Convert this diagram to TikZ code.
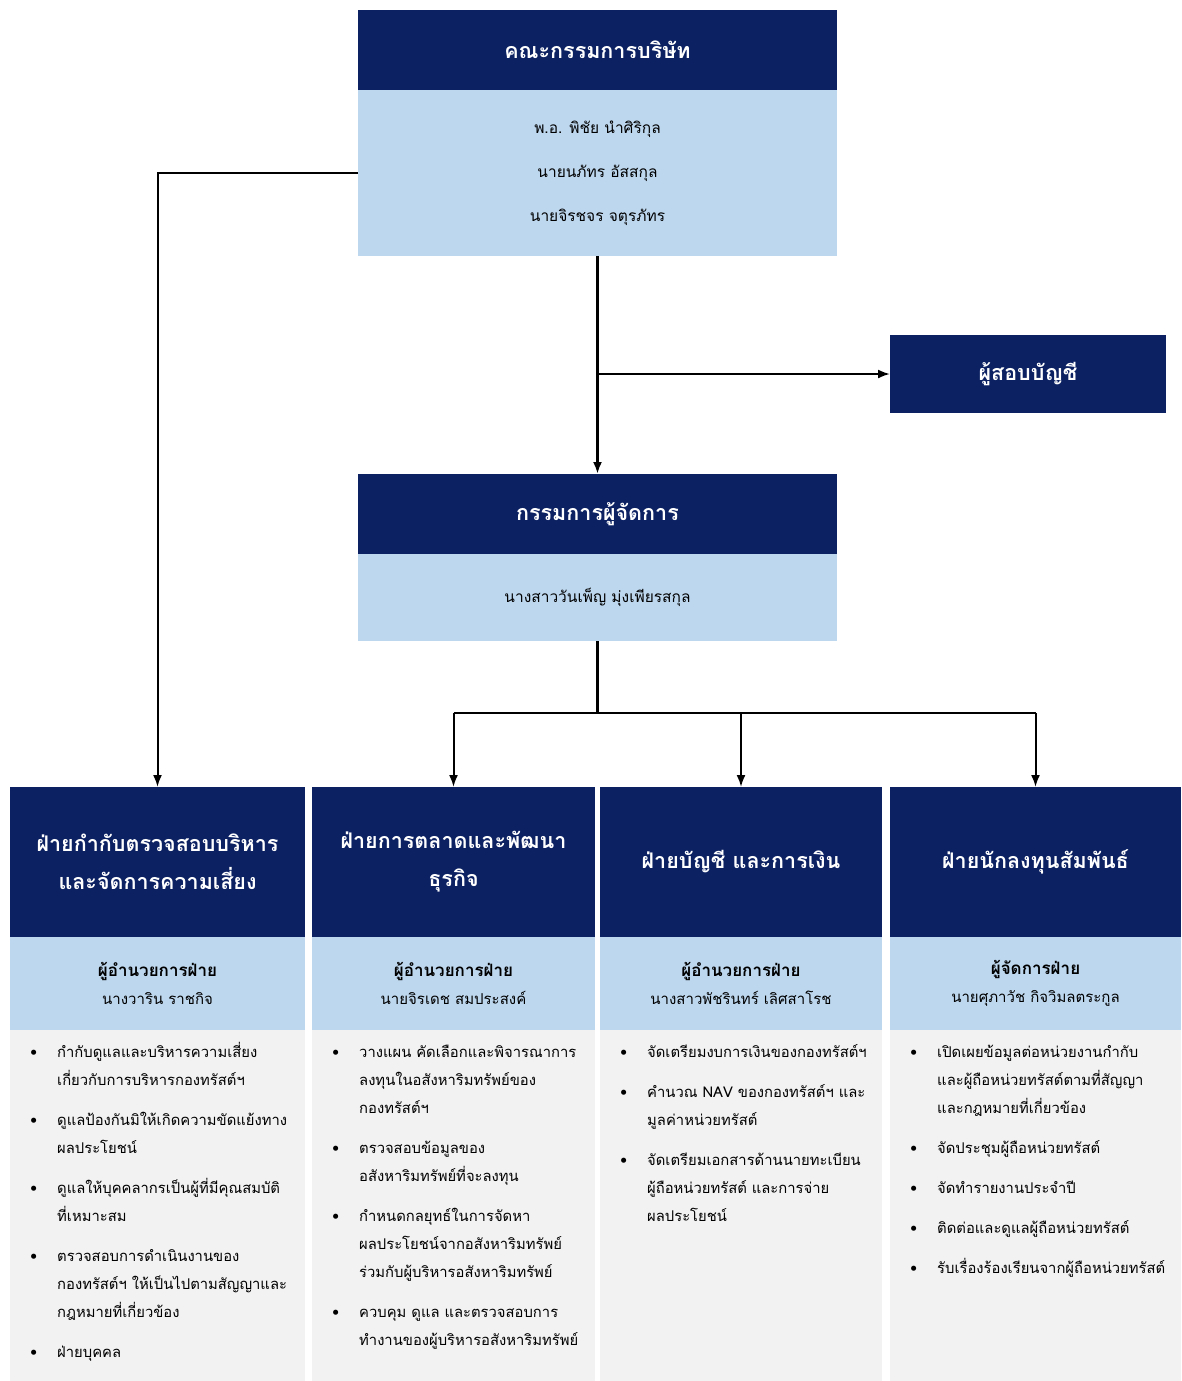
\documentclass[tikz,border=0pt]{standalone}
\usepackage{fontspec}
\setmainfont{Loma}[Script=Thai]
\usetikzlibrary{positioning,arrows.meta}
\definecolor{navy}{RGB}{12,33,98}
\definecolor{paleblue}{RGB}{189,215,238}
\definecolor{panelgrey}{RGB}{242,242,242}
\tikzset{
  headbox/.style={fill=navy, text=white, font=\fontsize{21.5}{38}\selectfont\bfseries,
    align=center, inner sep=0pt, outer sep=0pt, anchor=north},
  namebox/.style={fill=paleblue, font=\fontsize{15}{28}\selectfont,
    align=center, inner sep=0pt, outer sep=0pt},
  panel/.style={fill=panelgrey, inner sep=0pt, outer sep=0pt},
  duties/.style={font=\fontsize{14.8}{28}\selectfont, inner sep=0pt, anchor=north west,
    align=left},
  link/.style={->, line width=2pt},
}
\newcommand{\dutylist}[1]{%
  \setlength{\leftmargini}{47pt}\setlength{\labelsep}{20pt}%
  \setlength{\topsep}{0pt}\setlength{\partopsep}{0pt}%
  \begin{itemize}\setlength{\topsep}{0pt}\setlength{\partopsep}{0pt}%
  \setlength{\parsep}{0pt}\setlength{\itemsep}{8pt}#1\end{itemize}}
\newcommand{\subhead}[1]{{\fontsize{17}{28}\selectfont\bfseries #1}}
\begin{document}
\begin{tikzpicture}[x=1pt,y=-1pt,>={Latex[length=12pt,width=9pt]}]
  \useasboundingbox (0,0) rectangle (1181,1381);
  % board and managing director
  \node[headbox, minimum width=479pt, minimum height=80pt] (board) at (597.5,10) {คณะกรรมการบริษัท};
  \node[namebox, minimum width=479pt, minimum height=166pt, below=0pt of board,
    font=\fontsize{15.5}{44}\selectfont] (boardnames)
    {พ.อ. พิชัย นำศิริกุล\\นายนภัทร อัสสกุล\\นายจิรชจร จตุรภัทร};
  \node[headbox, minimum width=276pt, minimum height=78pt] (auditor) at (1028,335) {ผู้สอบบัญชี};
  \node[headbox, minimum width=479pt, minimum height=80pt] (md) at (597.5,474) {กรรมการผู้จัดการ};
  \node[namebox, minimum width=479pt, minimum height=87pt, below=0pt of md,
    font=\fontsize{15.5}{28}\selectfont] (mdnames)
    {นางสาววันเพ็ญ มุ่งเพียรสกุล};

  % departments
  \node[headbox, minimum width=295pt, minimum height=150pt] (risk) at (157.5,787)
    {ฝ่ายกำกับตรวจสอบบริหาร\\และจัดการความเสี่ยง};
  \node[headbox, minimum width=283pt, minimum height=150pt] (marketing) at (453.5,787)
    {ฝ่ายการตลาดและพัฒนา\\ธุรกิจ};
  \node[headbox, minimum width=282pt, minimum height=150pt] (finance) at (741,787)
    {ฝ่ายบัญชี และการเงิน};
  \node[headbox, minimum width=291pt, minimum height=150pt] (investor) at (1035.5,787)
    {ฝ่ายนักลงทุนสัมพันธ์};

  \node[namebox, minimum width=295pt, minimum height=93pt, below=0pt of risk] (riskhead)
    {\subhead{ผู้อำนวยการฝ่าย}\\นางวาริน ราชกิจ};
  \node[namebox, minimum width=283pt, minimum height=93pt, below=0pt of marketing] (marketinghead)
    {\subhead{ผู้อำนวยการฝ่าย}\\นายจิรเดช สมประสงค์};
  \node[namebox, minimum width=282pt, minimum height=93pt, below=0pt of finance] (financehead)
    {\subhead{ผู้อำนวยการฝ่าย}\\นางสาวพัชรินทร์ เลิศสาโรช};
  \node[namebox, minimum width=291pt, minimum height=93pt, below=0pt of investor] (investorhead)
    {\subhead{ผู้จัดการฝ่าย}\\นายศุภาวัช กิจวิมลตระกูล};

  \node[panel, minimum width=295pt, minimum height=351pt, below=0pt of riskhead] (riskpanel) {};
  \node[panel, minimum width=283pt, minimum height=351pt, below=0pt of marketinghead] (marketingpanel) {};
  \node[panel, minimum width=282pt, minimum height=351pt, below=0pt of financehead] (financepanel) {};
  \node[panel, minimum width=291pt, minimum height=351pt, below=0pt of investorhead] (investorpanel) {};

  \node[duties, text width=290pt, below right=-9pt and 0pt of riskpanel.north west] (riskduties) {\dutylist{
    \item กำกับดูแลและบริหารความเสี่ยง\\เกี่ยวกับการบริหารกองทรัสต์ฯ
    \item ดูแลป้องกันมิให้เกิดความขัดแย้งทาง\\ผลประโยชน์
    \item ดูแลให้บุคคลากรเป็นผู้ที่มีคุณสมบัติ\\ที่เหมาะสม
    \item ตรวจสอบการดำเนินงานของ\\กองทรัสต์ฯ ให้เป็นไปตามสัญญาและ\\กฎหมายที่เกี่ยวข้อง
    \item ฝ่ายบุคคล}};
  \node[duties, text width=280pt, below right=-9pt and 0pt of marketingpanel.north west] (marketingduties) {\dutylist{
    \item วางแผน คัดเลือกและพิจารณาการ\\ลงทุนในอสังหาริมทรัพย์ของ\\กองทรัสต์ฯ
    \item ตรวจสอบข้อมูลของ\\อสังหาริมทรัพย์ที่จะลงทุน
    \item กำหนดกลยุทธ์ในการจัดหา\\ผลประโยชน์จากอสังหาริมทรัพย์\\ร่วมกับผู้บริหารอสังหาริมทรัพย์
    \item ควบคุม ดูแล และตรวจสอบการ\\ทำงานของผู้บริหารอสังหาริมทรัพย์}};
  \node[duties, text width=280pt, below right=-9pt and 0pt of financepanel.north west] (financeduties) {\dutylist{
    \item จัดเตรียมงบการเงินของกองทรัสต์ฯ
    \item คำนวณ NAV ของกองทรัสต์ฯ และ\\มูลค่าหน่วยทรัสต์
    \item จัดเตรียมเอกสารด้านนายทะเบียน\\ผู้ถือหน่วยทรัสต์ และการจ่าย\\ผลประโยชน์}};
  \node[duties, text width=290pt, below right=-9pt and 0pt of investorpanel.north west] (investorduties) {\dutylist{
    \item เปิดเผยข้อมูลต่อหน่วยงานกำกับ\\และผู้ถือหน่วยทรัสต์ตามที่สัญญา\\และกฎหมายที่เกี่ยวข้อง
    \item จัดประชุมผู้ถือหน่วยทรัสต์
    \item จัดทำรายงานประจำปี
    \item ติดต่อและดูแลผู้ถือหน่วยทรัสต์
    \item รับเรื่องร้องเรียนจากผู้ถือหน่วยทรัสต์}};

  % connectors
  \draw[link] (boardnames.west) -| (risk.north);
  \draw[link, line width=3pt] (boardnames.south) -- (md.north);
  \draw[link] (boardnames.south |- auditor.west) -- (auditor.west);
  \coordinate[below=72pt of mdnames] (split);
  \draw[line width=2.5pt] (mdnames.south) -- (split);
  \draw[line width=2pt] (split -| marketing.north) -- (split -| investor.north);
  \draw[link] (split -| marketing.north) -- (marketing.north);
  \draw[link] (split -| finance.north) -- (finance.north);
  \draw[link] (split -| investor.north) -- (investor.north);
\end{tikzpicture}
\end{document}
